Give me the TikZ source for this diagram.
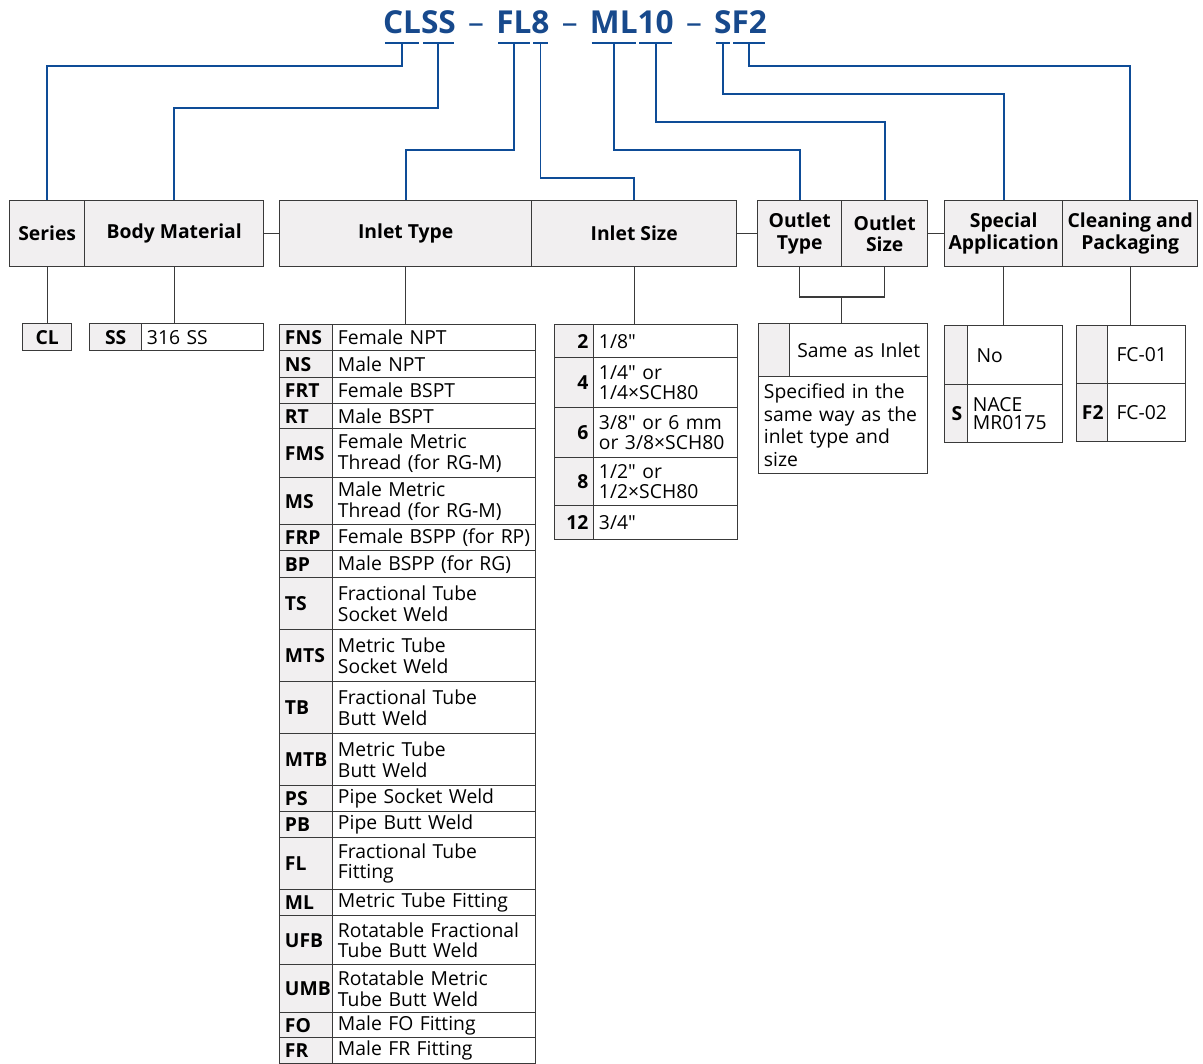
\documentclass[tikz,border=0pt]{standalone}
\usepackage{fontspec}
\setmainfont{Open Sans}
\newfontfamily\plainsans{Open Sans}
\usetikzlibrary{positioning}
\definecolor{linkblue}{HTML}{0E4C97}
\definecolor{titleblue}{HTML}{17498C}
\definecolor{gridgray}{HTML}{3A3A3A}
\definecolor{cellfill}{HTML}{F1EFF0}
\newcommand\cellfont{\plainsans\fontsize{11}{11.6}\selectfont}
\newcommand\hdrfont{\bfseries\fontsize{11}{12.4}\selectfont}
\newcommand\titlefont{\bfseries\fontsize{18}{21}\selectfont}

\begin{document}
\begin{tikzpicture}[
  x=0.02cm, y=-0.02cm,
  wh/.code 2 args={%
    \pgfmathsetlengthmacro\boxw{#1*0.02cm}%
    \pgfmathsetlengthmacro\boxh{#2*0.02cm}%
    \pgfmathsetlengthmacro\boxtw{#1*0.02cm-6pt}%
    \tikzset{minimum width=\boxw, minimum height=\boxh}},
  cell/.style 2 args={
    draw=gridgray, line width=0.8pt, anchor=north west,
    inner xsep=3pt, inner ysep=0pt, wh={#1}{#2}, text width=\boxtw,
    align=left, font=\cellfont},
  codecell/.style 2 args={cell={#1}{#2}, fill=cellfill, font=\cellfont\bfseries},
  hdr/.style 2 args={
    draw=gridgray, line width=0.8pt, fill=cellfill, anchor=north west,
    inner sep=0pt, wh={#1}{#2}, align=center, font=\hdrfont},
  tchunk/.style={inner sep=0pt, outer sep=0pt, text=titleblue, font=\titlefont},
  tdash/.style={tchunk, inner xsep=7pt, font=\titlefont\mdseries},
  bar/.style={draw=linkblue, line width=1.1pt, shorten <=1pt, shorten >=1pt},
  link/.style={draw=linkblue, line width=1.1pt},
  tie/.style={draw=gridgray, line width=0.8pt},
]
\useasboundingbox (0,0) rectangle (1203,1064);

% --- order code -----------------------------------------------------
\node[tchunk, anchor=base west] (tCL) at (383,34) {CL};
\node[tchunk, base right=0pt of tCL] (tSS) {SS};
\node[tdash,  base right=0pt of tSS] (d1) {–};
\node[tchunk, base right=0pt of d1]  (tFL) {FL};
\node[tchunk, base right=0pt of tFL] (t8) {8};
\node[tdash,  base right=0pt of t8]  (d2) {–};
\node[tchunk, base right=0pt of d2]  (tML) {ML};
\node[tchunk, base right=0pt of tML] (t10) {10};
\node[tdash,  base right=0pt of t10] (d3) {–};
\node[tchunk, base right=0pt of d3]  (tS) {S};
\node[tchunk, base right=0pt of tS]  (tF2) {F2};

\coordinate (barline) at (0,43);
\foreach \t in {tCL,tSS,tFL,t8,tML,t10,tS,tF2}
  \draw[bar] (\t.west |- barline) -- (\t.east |- barline);

% --- field headers --------------------------------------------------
\node[hdr={75}{66}]  (series)  at (9,200)    {Series};
\node[hdr={179}{66}] (body)    at (84,200)   {Body Material};
\node[hdr={252}{66}] (itype)   at (279,200)  {Inlet Type};
\node[hdr={205}{66}] (isize)   at (531,200)  {Inlet Size};
\node[hdr={84}{66}]  (otype)   at (757,200)  {Outlet\\Type};
\node[hdr={86}{66}]  (osize)   at (841,200)  {Outlet\\Size};
\node[hdr={118}{66}] (special) at (944,200)  {Special\\Application};
\node[hdr={135}{66}] (clean)   at (1062,200) {Cleaning and\\Packaging};

\draw[tie] (body.east) -- (itype.west);
\draw[tie] (isize.east) -- (otype.west);
\draw[tie] (osize.east) -- (special.west);

% --- links from the code to the headers -----------------------------
\coordinate (lvA) at (0,66);
\coordinate (lvB) at (0,94);
\coordinate (lvC) at (0,108);
\coordinate (lvD) at (0,122);
\coordinate (lvE) at (0,150);
\coordinate (lvF) at (0,178);

\draw[link] (tCL |- barline) -- (tCL |- lvA) -| (series.north);
\draw[link] (tSS |- barline) -- (tSS |- lvC) -| (body.north);
\draw[link] (tFL |- barline) -- (tFL |- lvE) -| (itype.north);
\draw[link] (t8 |- barline)  -- (t8 |- lvF)  -| (isize.north);
\draw[link] (tML |- barline) -- (tML |- lvE) -| (otype.north);
\draw[link] (t10 |- barline) -- (t10 |- lvD) -| (osize.north);
\draw[link] (tS |- barline)  -- (tS |- lvB)  -| (special.north);
\draw[link] (tF2 |- barline) -- (tF2 |- lvA) -| (clean.north);

% --- series and body ------------------------------------------------
\node[codecell={49}{27}, align=center] (cl) at (22,323) {CL};
\node[codecell={52}{27}, align=center] (ss) at (89,323) {SS};
\node[cell={122}{27}] (ss316) at (141,323) {316 SS};

\draw[tie] (series.south) -- (series.south |- cl.north);
\draw[tie] (body.south) -- (body.south |- ss.north);

% --- inlet type -----------------------------------------------------
\foreach \ry/\rh/\rc/\rd in {
  324/26/FNS/{Female NPT},
  350/27/NS/{Male NPT},
  377/26/FRT/{Female BSPT},
  403/25/RT/{Male BSPT},
  428/49/FMS/{Female Metric\\Thread (for RG-M)},
  477/47/MS/{Male Metric\\Thread (for RG-M)},
  524/26/FRP/{Female BSPP (for RP)},
  550/27/BP/{Male BSPP (for RG)},
  577/52/TS/{Fractional Tube\\Socket Weld},
  629/52/MTS/{Metric Tube\\Socket Weld},
  681/52/TB/{Fractional Tube\\Butt Weld},
  733/52/MTB/{Metric Tube\\Butt Weld},
  785/26/PS/{Pipe Socket Weld},
  811/26/PB/{Pipe Butt Weld},
  837/52/FL/{Fractional Tube\\Fitting},
  889/26/ML/{Metric Tube Fitting},
  915/49/UFB/{Rotatable Fractional\\Tube Butt Weld},
  964/48/UMB/{Rotatable Metric\\Tube Butt Weld},
  1012/25/FO/{Male FO Fitting},
  1037/26/FR/{Male FR Fitting}}{
  \node[codecell={53}{\rh}] (it-\rc) at (279,\ry) {\rc};
  \node[cell={203}{\rh}] (itd-\rc) at (332,\ry) {\rd};
}
\draw[tie] (itype.south) -- (itype.south |- it-FNS.north);

% --- inlet size -----------------------------------------------------
\foreach \ry/\rh/\rc/\rd in {
  324/33/2/{1/8"},
  357/50/4/{1/4" or\\1/4×SCH80},
  407/50/6/{3/8" or 6 mm\\or 3/8×SCH80},
  457/48/8/{1/2" or\\1/2×SCH80},
  505/34/12/{3/4"}}{
  \node[codecell={39}{\rh}, align=right] (is-\rc) at (554,\ry) {\rc\hspace{4pt}};
  \node[cell={144}{\rh}] (isd-\rc) at (593,\ry) {\rd};
}
\draw[tie] (isize.south) -- (isize.south |- is-2.north);

% --- outlet ---------------------------------------------------------
\node[codecell={31}{53}] (oblank) at (758,323) {};
\node[cell={138}{53}, align=center] (osame) at (789,323) {Same as Inlet};
\node[cell={169}{97}, font=\plainsans\fontsize{11}{13}\selectfont] (ospec) at (758,376)
  {Specified in the\\same way as the\\inlet type and\\size};

\coordinate (ofork) at (841.5,297);
\draw[tie] (otype.south) |- (ofork) -| (osize.south);
\draw[tie] (ofork) -- (ofork |- osame.north);

% --- special application --------------------------------------------
\node[codecell={23}{59}] (sblank) at (944,325) {};
\node[cell={95}{59}] (sno) at (967,325) {\hspace{2pt}No};
\node[codecell={23}{58}, inner xsep=1pt] (scode) at (944,384) {\hspace{1pt}S};
\node[cell={95}{58}, font=\plainsans\fontsize{11}{10.6}\selectfont] (snace) at (967,384) {NACE\\MR0175};
\draw[tie] (special.south) -- (special.south |- sblank.north);

% --- cleaning and packaging -----------------------------------------
\node[codecell={31}{58}] (cblank) at (1076,325) {};
\node[cell={78}{58}] (cfc1) at (1107,325) {\hspace{2pt}FC-01};
\node[codecell={31}{58}] (ccode) at (1076,383) {F2};
\node[cell={78}{58}] (cfc2) at (1107,383) {\hspace{2pt}FC-02};
\draw[tie] (clean.south) -- (clean.south |- cblank.north);

\end{tikzpicture}
\end{document}
